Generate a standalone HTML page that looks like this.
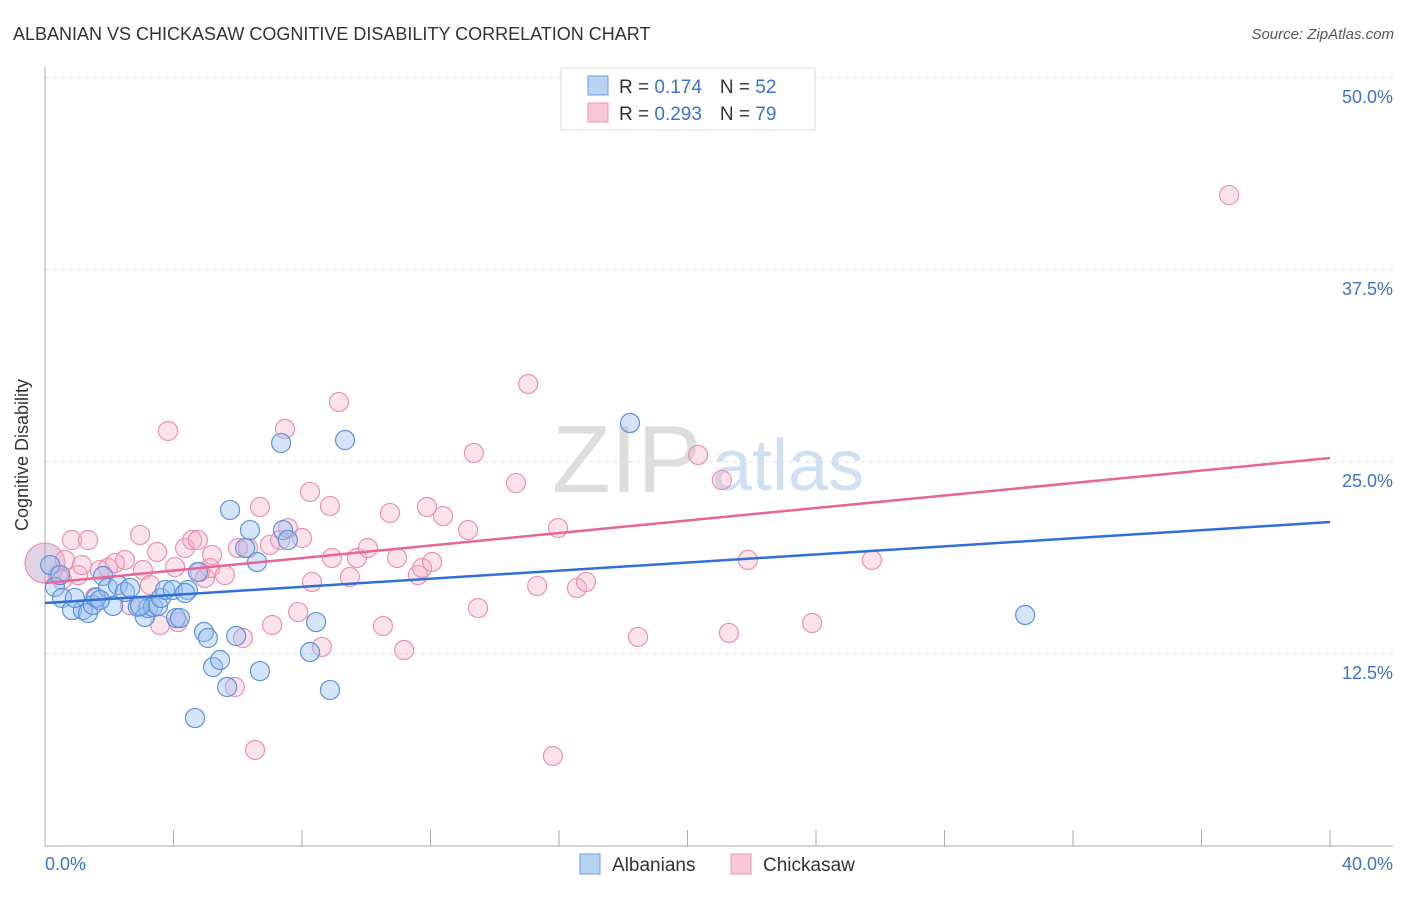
<!DOCTYPE html>
<html><head><meta charset="utf-8"><style>
body{margin:0;background:#fff;font-family:"Liberation Sans",sans-serif}
svg text{font-family:"Liberation Sans",sans-serif}
</style></head><body>
<svg width="1406" height="892" viewBox="0 0 1406 892">
<text x="13" y="40" font-size="18" fill="#333">ALBANIAN VS CHICKASAW COGNITIVE DISABILITY CORRELATION CHART</text>
<text x="1394" y="39" font-size="15" fill="#555" font-style="italic" text-anchor="end">Source: ZipAtlas.com</text>
<text x="28" y="455" font-size="18" fill="#333" transform="rotate(-90 28 455)" text-anchor="middle">Cognitive Disability</text>
<g>
<text x="552" y="492" font-size="96" font-family="Liberation Serif" fill="#ddd">ZIP</text>
<text x="712" y="490" font-size="72" fill="#cfe0f3">atlas</text>
</g>
<g id="grid"></g><g id="axes"></g><g id="pts"></g><g id="lines"></g>
<g>
<rect x="561" y="68" width="254" height="62" fill="#fff" stroke="#ddd"/>
<rect x="588" y="76" width="20" height="19" fill="#b9d3f5" stroke="#6f9ee0"/>
<rect x="588" y="103" width="20" height="19" fill="#f9c8d8" stroke="#ec93b1"/>
<text x="619" y="93" font-size="19" fill="#333">R = <tspan fill="#3b73c9"> 0.174</tspan><tspan dx="18">N = </tspan><tspan fill="#3b73c9">52</tspan></text>
<text x="619" y="120" font-size="19" fill="#333">R = <tspan fill="#3b73c9">0.293</tspan><tspan dx="18">N = </tspan><tspan fill="#3b73c9">79</tspan></text>
</g>
<g>
<rect x="580" y="854" width="20" height="20" fill="#b9d3f5" stroke="#6f9ee0"/>
<text x="612" y="871" font-size="19" fill="#333">Albanians</text>
<rect x="731" y="854" width="20" height="20" fill="#f9c8d8" stroke="#ec93b1"/>
<text x="763" y="871" font-size="19" fill="#333">Chickasaw</text>
</g>
</svg>
<script>
const yTicks=[12.5,25,37.5,50];
const yTickLabels=["12.5%","25.0%","37.5%","50.0%"];
const xEndLabels=["0.0%","40.0%"];
const albX=[0.31,0.53,0.84,1.18,1.34,1.49,1.59,1.81,1.96,2.12,2.27,2.49,2.65,2.89,3.11,3.21,3.36,3.52,3.61,3.74,3.98,4.08,4.20,4.45,4.76,4.95,5.07,5.23,5.45,5.67,5.76,5.95,6.38,6.60,6.69,7.35,7.41,7.56,8.25,8.44,8.87,9.34,4.67,18.21,30.51,6.23,0.16,0.93,2.96,4.36,1.71,0.47];
const albY=[16.86,16.15,15.36,15.36,15.17,15.69,16.15,17.58,16.80,15.63,16.99,16.54,16.80,15.56,14.91,15.49,15.56,15.63,16.15,16.67,16.67,14.84,14.84,16.67,17.84,13.93,13.54,11.65,12.11,10.35,21.88,13.67,20.57,18.49,11.39,26.24,20.57,19.92,12.63,14.58,10.16,26.43,8.33,27.54,15.04,19.40,18.29,16.15,15.63,16.47,16.02,17.64];
const chiX=[0,0.40,0.62,0.84,1.03,1.34,1.56,1.71,1.96,2.18,2.49,2.65,2.96,3.05,3.27,3.49,3.58,3.83,4.05,4.14,4.36,4.58,4.76,4.98,5.14,5.20,5.60,5.91,6.01,6.16,6.32,6.54,6.69,7.00,7.07,7.32,7.47,7.56,7.88,8.00,8.25,8.31,8.62,8.87,8.93,9.15,9.49,9.71,10.05,10.52,10.74,10.96,11.18,11.61,11.74,11.89,12.05,12.39,13.17,13.35,13.48,14.66,15.04,15.32,15.81,15.97,16.56,16.84,18.46,20.33,21.07,21.29,21.88,23.88,25.74,36.86,0.53,1.15,4.82];
const chiY=[18.42,17.64,18.62,19.92,17.64,19.92,16.21,17.97,18.10,18.42,18.62,15.69,20.25,17.97,16.99,19.14,14.39,27.02,18.16,14.58,19.40,19.92,19.92,17.45,18.10,18.95,17.64,10.35,19.40,13.54,19.40,6.25,22.07,19.60,14.39,19.92,27.15,20.70,15.23,20.05,23.05,17.19,12.96,22.14,18.75,28.91,17.51,18.75,19.40,14.32,21.68,18.75,12.76,17.64,18.10,22.07,18.49,21.48,20.57,25.59,15.49,23.63,30.08,16.93,5.86,20.70,16.80,17.19,13.61,25.46,23.83,13.87,18.62,14.52,18.62,42.38,17.32,18.29,17.84];
const albLine=[15.82,21.09];
const chiLine=[17.12,25.26];
const NS="http://www.w3.org/2000/svg";
const X0=45,X1=1330,Y0=846,PY=15.36;
const sx=v=>X0+(v/40)*(X1-X0);
const sy=v=>Y0-v*PY;
function mk(tag,attrs,parent){const e=document.createElementNS(NS,tag);for(const k in attrs)e.setAttribute(k,attrs[k]);parent.appendChild(e);return e;}
const grid=document.getElementById('grid'),axes=document.getElementById('axes'),pts=document.getElementById('pts'),lines=document.getElementById('lines');
yTicks.forEach((t,i)=>{
 const l=mk('line',{x1:45,x2:1393,y1:sy(t),y2:sy(t),stroke:'#ddd','stroke-dasharray':'4 4'},grid);
 
 
 const tx=mk('text',{x:1393,y:sy(t)+25,'font-size':18,fill:'#3b73c9','text-anchor':'end'},grid);
 tx.textContent=yTickLabels[i];
 
 
});
const ya=mk('line',{x1:45,x2:45,y1:67,y2:846,stroke:'#aaa'},axes);


const xa=mk('line',{x1:45,x2:1393,y1:846,y2:846,stroke:'#aaa'},axes);


for(let i=0;i<=10;i++){
 const t=mk('line',{x1:sx(i*4),x2:sx(i*4),y1:830,y2:846,stroke:'#aaa'},axes);
 
 
}
const xl0=mk('text',{x:45,y:870,'font-size':18,fill:'#3b73c9'},axes);xl0.textContent=xEndLabels[0];


const xl1=mk('text',{x:1393,y:870,'font-size':18,fill:'#3b73c9','text-anchor':'end'},axes);xl1.textContent=xEndLabels[1];


chiX.forEach((x,i)=>{
 const c=mk('circle',{cx:sx(x),cy:sy(chiY[i]),r:i===0?20:9.5,fill:i===0?'rgba(190,160,200,0.45)':'rgba(246,175,198,0.35)',stroke:'#eb91b0','stroke-width':1.2},pts);
 
 
});
albX.forEach((x,i)=>{
 const c=mk('circle',{cx:sx(x),cy:sy(albY[i]),r:9.5,fill:'rgba(150,190,240,0.4)',stroke:'#5b93dd','stroke-width':1.2},pts);
 
 
});
const lb=mk('line',{x1:sx(0),y1:sy(albLine[0]),x2:sx(40),y2:sy(albLine[1]),stroke:'#2f6fd6','stroke-width':2.5},lines);


const lp=mk('line',{x1:sx(0),y1:sy(chiLine[0]),x2:sx(40),y2:sy(chiLine[1]),stroke:'#e8649a','stroke-width':2.5},lines);


</script>
</body></html>
